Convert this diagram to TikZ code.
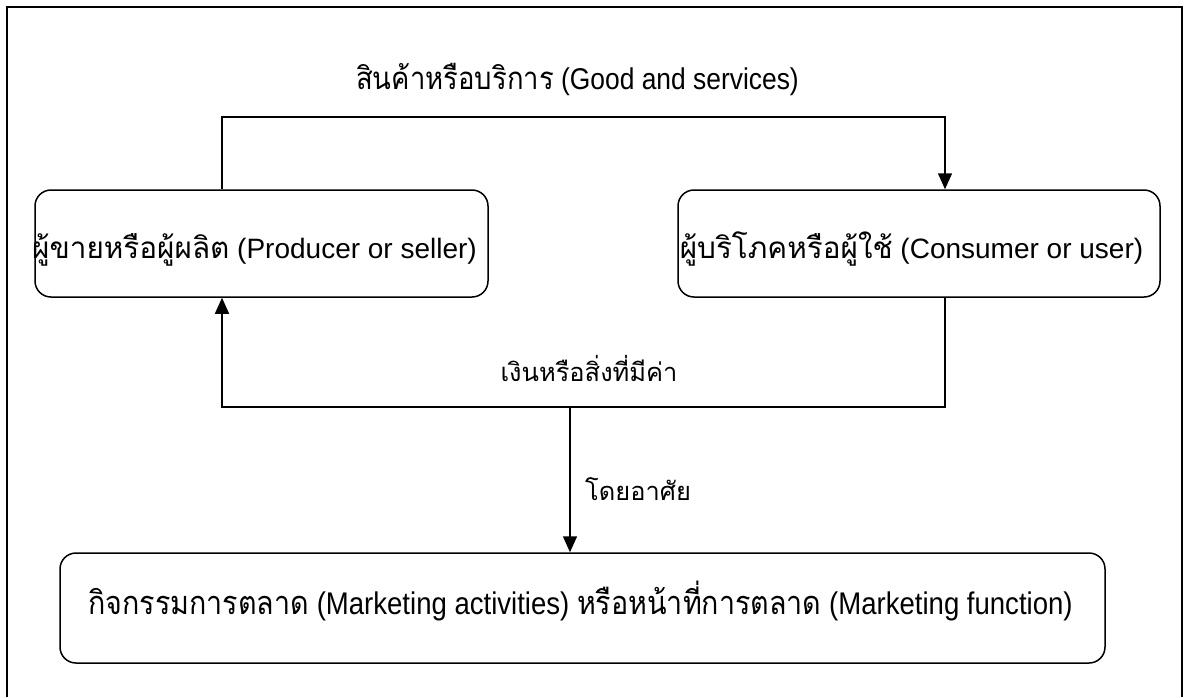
\documentclass[tikz,border=0pt]{standalone}
\usepackage{fontspec}
\setmainfont{Liberation Sans}
\newfontfamily\thaifont[Script=Thai,Scale=1.06]{Loma}
\newfontfamily\thaicond[Script=Thai,FakeStretch=0.88,Scale=1.04]{Loma}
\newfontfamily\latcond[FakeStretch=0.88]{Liberation Sans}
\newcommand{\tf}[1]{{\thaifont #1}}
\newcommand{\tc}[1]{{\thaicond #1}}
\usetikzlibrary{arrows.meta}
\begin{document}
\begin{tikzpicture}[x=1pt,y=-1pt,
  box/.style={draw, rounded corners=16pt, line width=1.5pt, inner sep=0pt},
  flow/.style={draw, line width=1.5pt, -{Triangle[width=14pt,length=16pt]}},
  lbl/.style={inner sep=0pt, anchor=base},
  bigtxt/.style={font=\fontsize{28}{33}\selectfont},
  midtxt/.style={font=\fontsize{24}{29}\selectfont},
  condtxt/.style={font=\fontsize{30}{35}\selectfont\latcond},
  condbig/.style={font=\fontsize{31.3}{36}\selectfont\latcond},
]
\useasboundingbox (0,0) rectangle (1190,697);
\draw[line width=1.5pt] (7,697) -- (7,7) -- (1182,7) -- (1182,697);
\node[box, minimum width=453pt, minimum height=107pt] (prod) at (261.5,243.5) {};
\node[box, minimum width=482pt, minimum height=107pt] (cons) at (919,243.5) {};
\node[box, minimum width=1045pt, minimum height=110pt] (mkt) at (582.5,608) {};
\node[lbl, bigtxt] (prodtxt) at (254.5,258) {\tf{ผู้ขายหรือผู้ผลิต} (Producer or seller)};
\node[lbl, bigtxt] (constxt) at (911.5,258) {\tf{ผู้บริโภคหรือผู้ใช้} (Consumer or user)};
\node[lbl, condtxt] (goods) at (577.5,89) {\tc{สินค้าหรือบริการ} (Good and services)};
\node[lbl, condbig] (mkttxt) at (580.5,614) {\tc{กิจกรรมการตลาด} (Marketing activities) \tc{หรือหน้าที่การตลาด} (Marketing function)};
\node[lbl, midtxt] (money) at (589,381) {\tf{เงินหรือสิ่งที่มีค่า}};
\node[lbl, midtxt, anchor=base west] (via) at (585,500) {\tf{โดยอาศัย}};
\coordinate (topL) at (222,117);
\coordinate (topR) at (945,117);
\coordinate (botR) at (945,407);
\coordinate (botL) at (222,407);
\coordinate (botM) at (570,407);
\draw[flow] (prod.north -| topL) -- (topL) -- (topR) -- (cons.north -| topR);
\draw[flow] (cons.south -| botR) -- (botR) -- (botL) -- (prod.south -| botL);
\draw[flow] (botM) -- (mkt.north -| botM);
\end{tikzpicture}
\end{document}
